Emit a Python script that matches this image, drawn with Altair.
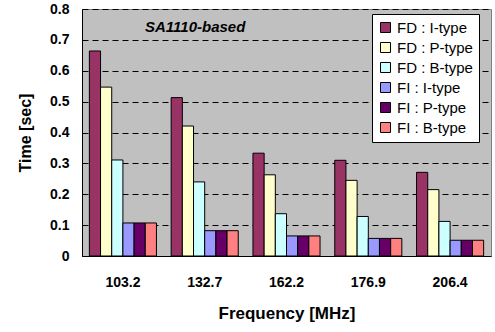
import altair as alt
import pandas as pd

freqs = ["103.2", "132.7", "162.2", "176.9", "206.4"]
series = ["FD : I-type", "FD : P-type", "FD : B-type", "FI  : I-type", "FI  : P-type", "FI  : B-type"]
colors = ["#993366", "#FFFFCC", "#CCFFFF", "#9999FF", "#660066", "#FF8080"]
fd_i = [0.664, 0.513, 0.333, 0.310, 0.271]
fd_p = [0.547, 0.421, 0.263, 0.245, 0.215]
fd_b = [0.311, 0.240, 0.137, 0.128, 0.112]
fi_i = [0.107, 0.082, 0.065, 0.057, 0.051]
fi_p = [0.107, 0.082, 0.065, 0.057, 0.051]
fi_b = [0.107, 0.082, 0.065, 0.057, 0.051]

rows = []
for s, vals in zip(series, [fd_i, fd_p, fd_b, fi_i, fi_p, fi_b]):
    for f, v in zip(freqs, vals):
        rows.append({"freq": f, "series": s, "time": v})
df = pd.DataFrame(rows)

font = "Liberation Sans"

bars = alt.Chart(df).mark_bar(stroke="black", strokeWidth=1, opacity=1).encode(
    x=alt.X("freq:N", sort=freqs,
            scale=alt.Scale(paddingInner=0.18, paddingOuter=0.09),
            axis=alt.Axis(title="Frequency [MHz]", labelAngle=0, labelFont=font,
                          labelFontSize=14, labelFontWeight="bold", labelPadding=19,
                          titleFont=font, titleFontSize=17, titleFontWeight="bold",
                          titlePadding=16, domainColor="black", tickSize=0,
                          labelColor="black", titleColor="black")),
    xOffset=alt.XOffset("series:N", sort=series),
    y=alt.Y("time:Q", scale=alt.Scale(domain=[0, 0.8]),
            axis=alt.Axis(title="Time [sec]", values=[0, 0.1, 0.2, 0.3, 0.4, 0.5, 0.6, 0.7, 0.8],
                          format="~g", labelFont=font, labelFontSize=14,
                          labelFontWeight="bold", labelPadding=13, tickSize=0,
                          titleFont=font, titleFontSize=16, titleFontWeight="bold",
                          titlePadding=16, domainColor="black", labelColor="black",
                          titleColor="black", grid=True, gridColor="black",
                          gridDash=[6, 4], gridWidth=1)),
    color=alt.Color("series:N", sort=series,
                    scale=alt.Scale(domain=series, range=colors),
                    legend=alt.Legend(title=None, orient="none", legendX=290, legendY=5,
                                      fillColor="white", strokeColor="black",
                                      padding=6, symbolType="square", symbolSize=100,
                                      symbolStrokeColor="black", symbolStrokeWidth=1,
                                      labelFont=font, labelFontSize=15, labelColor="black",
                                      rowPadding=4, labelOffset=4, symbolOpacity=1)),
)

label = alt.Chart(pd.DataFrame({"t": ["SA1110-based"]})).mark_text(
    font=font, fontSize=15, fontWeight="bold", fontStyle="italic", color="black",
    align="left", baseline="middle"
).encode(x=alt.value(63), y=alt.value(18), text="t:N")

chart = alt.layer(bars, label).properties(
    width=409, height=247,
    padding={"left": 82, "top": 9, "right": 4, "bottom": 76},
    autosize=alt.AutoSizeParams(type="none"),
).configure(background="white").configure_view(fill="#C0C0C0", stroke="#808080", strokeWidth=1)

chart.save("out.html", embed_options={"renderer": "svg", "actions": False})
